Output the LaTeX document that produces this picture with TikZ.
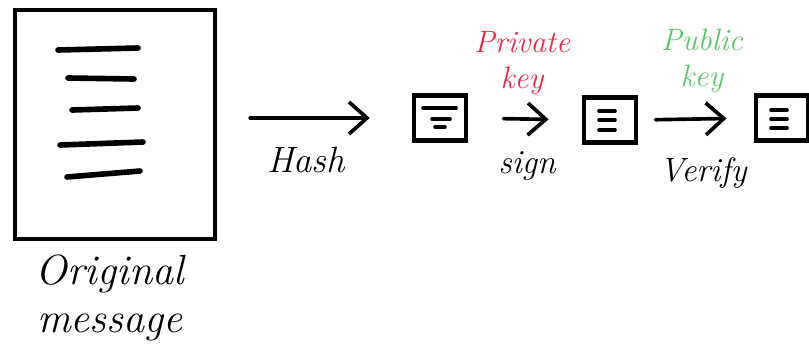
\documentclass[tikz,border=0pt]{standalone}
\usepackage{xcolor}
\usepackage{tikz}
\usetikzlibrary{positioning, arrows.meta, calc}

\definecolor{keyred}{RGB}{232,42,72}
\definecolor{keygreen}{RGB}{92,196,104}

\begin{document}
\begin{tikzpicture}[x=0.025cm, y=-0.025cm,
  doc/.style={draw, line width=2.8pt, minimum width=5cm, minimum height=5.72cm, inner sep=0pt},
  digest/.style={draw, line width=3.2pt, minimum width=1.3cm, minimum height=1.12cm, inner sep=0pt},
  txt/.style={line width=4pt, line cap=round},
  dline/.style={line width=2.6pt, line cap=round},
  flow/.style={-{Straight Barb[length=4.5mm, width=8mm, line width=2.6pt]}, line width=2.6pt, line cap=round},
  lbl/.style={font=\fontsize{26}{34}\selectfont\itshape, align=center},
  keylbl/.style={font=\fontsize{22}{26}\selectfont\itshape, align=center, inner sep=1pt}
]
  \useasboundingbox (0,0) rectangle (809,351);

  % original message
  \node[doc] (msg) at (115,124.5) {};
  \draw[txt] (58,50) -- (138,48);
  \draw[txt] (68,78) -- (134,79);
  \draw[txt] (72,110) -- (138,108);
  \draw[txt] (60,145) -- (143,142);
  \draw[txt] (67,177) -- (140,171);
  \node[lbl, font=\fontsize{30}{34}\selectfont\itshape] (msglbl) at (110,298) {Original\\message};

  % three digests
  \node[digest] (h1) at (440,118) {};
  \node[digest] (h2) at (610,120) {};
  \node[digest] (h3) at (782,118) {};
  \draw[dline] ($(h1)+(-17,-10)$) -- ($(h1)+(16,-10)$);
  \draw[dline] ($(h1)+(-8,1)$) -- ($(h1)+(10,1)$);
  \draw[dline] ($(h1)+(-5,9)$) -- ($(h1)+(5,9)$);
  \foreach \n/\dy in {h2/-9, h2/0, h2/10, h3/-8, h3/1, h3/10}
    \draw[dline] ($(\n)+(-11,\dy)$) -- ($(\n)+(5,\dy)$);

  % arrows
  \draw[flow, shorten <=0.83cm, shorten >=1.05cm] (msg.east |- h1) -- (h1.west);
  \draw[flow, shorten <=0.88cm, shorten >=0.83cm] (h1.east) -- (h2.west);
  \draw[flow, shorten <=0.43cm, shorten >=0.68cm] (h2.east) -- (h3.west);

  % labels
  \node[lbl] (hash) at (306,160) {Hash};
  \node[lbl, font=\fontsize{24}{28}\selectfont\itshape] (sign) at (527,166) {sign};
  \node[lbl, font=\fontsize{24}{28}\selectfont\itshape] (verify) at (703,173) {Verify};
  \node[keylbl, keyred] (priv) at (522,63) {Private\\key};
  \node[keylbl, keygreen] (pub) at (702,61) {Public\\key};
\end{tikzpicture}
\end{document}
